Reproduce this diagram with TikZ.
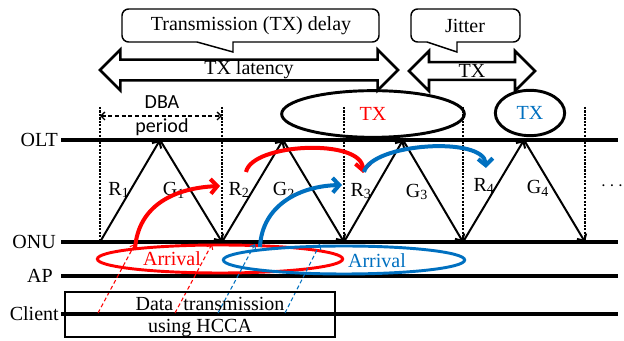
\documentclass[tikz,border=0pt]{standalone}
\usepackage{fontspec}
\setmainfont{Liberation Serif}
\newfontfamily\dbafont{Carlito}
\usepackage{xcolor}
\usepackage{tikz}
\usetikzlibrary{arrows.meta,shapes.arrows,shapes.geometric}
\definecolor{txred}{RGB}{255,0,0}
\definecolor{txblue}{RGB}{0,112,192}

\begin{document}
\begin{tikzpicture}[x=0.75pt, y=-0.75pt,
  every node/.style={font=\fontsize{15}{18}\selectfont, inner sep=0pt},
  timeline/.style={line width=3pt},
  msg/.style={line width=1.5pt, -{Straight Barb[length=4pt,width=8pt]}},
  slotline/.style={line width=1.6pt, densely dotted},
  flow/.style={line width=3pt, -{Straight Barb[length=5pt,width=11pt]}},
  hop/.style={line width=0.8pt, densely dashed, -{Straight Barb[length=3pt,width=5pt]}},
  bubble/.style={line width=1.1pt},
  bigarrow/.style={draw, double arrow, line width=1.9pt, double arrow head extend=7.5pt, minimum width=30pt},
  txoval/.style={draw, ellipse, line width=2.2pt},
  arrival/.style={draw, ellipse, line width=2.2pt, minimum height=21pt}]
  \useasboundingbox (0,0) rectangle (624,341);

  % slot borders
  \foreach \i/\x in {0/100, 1/222, 2/344, 3/463, 4/585} {
    \coordinate (top\i) at (\x,107);
    \coordinate (onu\i) at (\x,242);
    \draw[slotline] (top\i) -- (onu\i);
  }

  % time lines
  \node[anchor=east] (olt) at (58,140) {OLT};
  \node[anchor=east] (onu) at (56,242) {ONU};
  \node[anchor=east] (ap) at (53,276) {AP};
  \node[anchor=east] (client) at (59,314) {Client};
  \foreach \name/\y in {olt/140, onu/242, ap/276, client/314} {
    \coordinate (\name s) at (61,\y);
    \coordinate (\name e) at (618,\y);
    \draw[timeline] (\name s) -- (\name e);
  }

  % report / grant
  \foreach \i/\x in {1/160, 2/283, 3/403, 4/524}
    \coordinate (olt\i) at (\x,140);
  \foreach \i/\j in {1/0, 2/1, 3/2, 4/3} {
    \draw[msg] (onu\j) -- (olt\i);
    \draw[msg] (olt\i) -- (onu\i);
  }

  \node (r1) at (119,190) {R\textsubscript{1}};
  \node (g1) at (174,190) {G\textsubscript{1}};
  \node (r2) at (239,190) {R\textsubscript{2}};
  \node (g2) at (284,190) {G\textsubscript{2}};
  \node (r3) at (361,191) {R\textsubscript{3}};
  \node (g3) at (417,192) {G\textsubscript{3}};
  \node (r4) at (484,186) {R\textsubscript{4}};
  \node (g4) at (538,188) {G\textsubscript{4}};
  \node (more) at (612,186) {$\cdots$};

  % DBA period
  \node[font=\fontsize{15}{18}\dbafont] (dba) at (162,102) {DBA};
  \node[font=\fontsize{15}{18}\dbafont] (period) at (162,127) {period};
  \coordinate (dbal) at (100,116);
  \coordinate (dbar) at (222,116);
  \draw[line width=1pt, densely dashed, {Straight Barb[length=3pt,width=6pt]}-{Straight Barb[length=3pt,width=6pt]}] (dbal) -- (dbar);

  % TX windows
  \node[txoval, minimum width=137pt, minimum height=35pt, text=txred] (txone) at (373,114) {TX};
  \node[txoval, minimum width=52pt, minimum height=34pt, text=txblue] (txtwo) at (530,113) {TX};

  % spans
  \node[bigarrow, minimum height=223.5pt] (latency) at (249,70) {TX latency};
  \node[bigarrow, minimum height=94.5pt] (txspan) at (472,71) {TX};

  % callouts
  \node (delay) at (251,26) {Transmission (TX) delay};
  \draw[bubble] (233,52) -- (197,42) [rounded corners=5pt] -- (122,42) -- (122,9)
    -- (379,9) -- (379,42) [sharp corners] -- (233,42) -- cycle;
  \node (jitter) at (465,26) {Jitter};
  \draw[bubble] (457,52) -- (427,42) [rounded corners=5pt] -- (411,42) -- (411,9)
    -- (520,9) -- (520,42) [sharp corners] -- (457,42) -- cycle;

  % arrivals
  \node[arrival, draw=txred, minimum width=184pt] (arrone) at (220,259) {};
  \node[arrival, draw=txblue, minimum width=181pt] (arrtwo) at (344,260) {};
  \node[text=txred] (arronetxt) at (172,259) {Arrival};
  \node[text=txblue] (arrtwotxt) at (377,261) {Arrival};

  % queued data
  \coordinate (ra) at (135,249);
  \coordinate (rb) at (220,186);
  \draw[flow, txred] (ra) .. controls (138,205) and (175,188) .. (rb);
  \coordinate (rc) at (246,172);
  \coordinate (rd) at (363,173);
  \draw[flow, txred] (rc) .. controls (252,143) and (362,138) .. (rd);
  \coordinate (ba) at (260,247);
  \coordinate (bb) at (342,185);
  \draw[flow, txblue] (ba) .. controls (262,205) and (300,186) .. (bb);
  \coordinate (bc) at (364,172);
  \coordinate (bd) at (486,168);
  \draw[flow, txblue] (bc) .. controls (372,143) and (484,136) .. (bd);

  % HCCA uplink
  \foreach \n/\a/\b/\c in {a/98/135/txred, b/175/212/txred, c/218/255/txblue, d/285/320/txblue} {
    \coordinate (src\n) at (\a,313);
    \coordinate (dst\n) at (\b,244);
    \draw[hop, \c] (src\n) -- (dst\n);
  }
  \node[draw, line width=1.5pt, minimum width=202.5pt, minimum height=33.75pt] (hcca) at (200,314.5) {};
  \node[anchor=base] (hccaone) at (210,311) {Data\enspace transmission};
  \node[anchor=base] (hccatwo) at (200,333) {using HCCA};
\end{tikzpicture}
\end{document}
